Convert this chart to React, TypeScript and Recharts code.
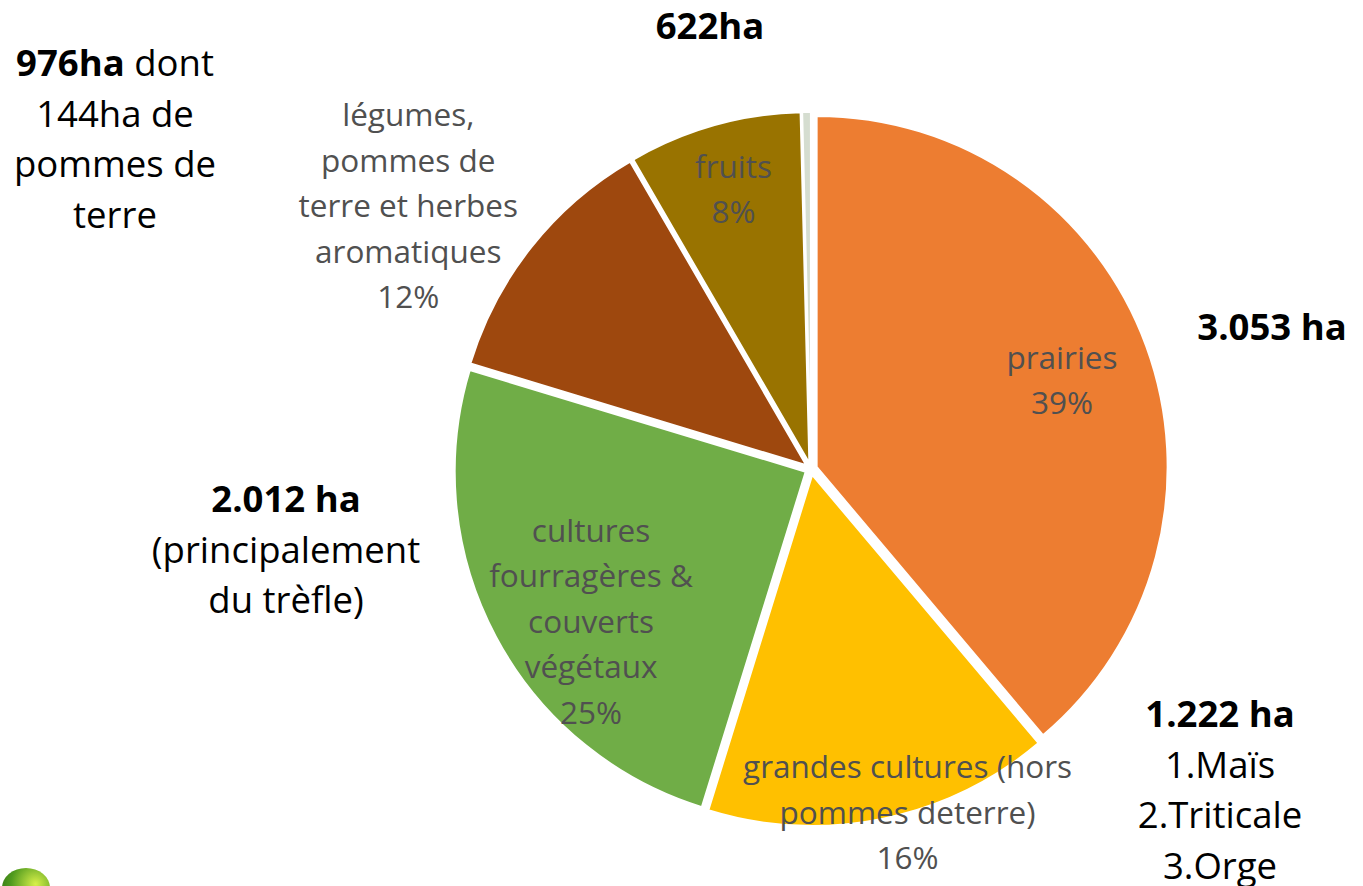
import { PieChart, Pie, Cell, Sector } from 'recharts'

const categories = [
  'prairies',
  'grandes cultures (hors pommes deterre)',
  'cultures fourragères & couverts végétaux',
  'légumes, pommes de terre et herbes aromatiques',
  'fruits',
  'autres',
]
const shares = [39, 16, 25, 12, 8, 0.4]
const colors = ['#ED7D31', '#FFC000', '#70AD47', '#9E480E', '#997300', '#D5DDD0']

// wrapped label lines per slice (as in the original)
const labelLines = [
  ['prairies'],
  ['grandes cultures (hors', 'pommes deterre)'],
  ['cultures', 'fourragères &', 'couverts', 'végétaux'],
  ['légumes,', 'pommes de', 'terre et herbes', 'aromatiques'],
  ['fruits'],
  [],
]

// label placement: radius factor and angle nudge (degrees)
const labelPlace = [
  { r: 0.76, da: -0.3 },
  { r: 1.012, da: 4.3 },
  { r: 0.76, da: 6.5 },
  { r: 1.373, da: 5.05 },
  { r: 0.832, da: -0.4 },
  { r: 0, da: 0 },
]

const hectares = [
  { bold: '976ha', rest: [' dont', '144ha de', 'pommes de', 'terre'], x: 115, y: 37 },
  { bold: '622ha', rest: [], x: 710, y: 0 },
  { bold: '3.053 ha', rest: [], x: 1272, y: 301 },
  { bold: '2.012 ha', rest: ['(principalement', 'du trèfle)'], x: 286, y: 473 },
  { bold: '1.222 ha', rest: ['1.Maïs', '2.Triticale', '3.Orge'], x: 1220, y: 688 },
]

const data = categories.map((name, i) => ({ name, value: shares[i] }))

const RAD = Math.PI / 180
const EXPLODE = 6

const renderSector = (props: any) => {
  const { cx, cy, midAngle } = props
  const dx = Math.cos(-midAngle * RAD) * EXPLODE
  const dy = Math.sin(-midAngle * RAD) * EXPLODE
  return <Sector {...props} cx={cx + dx} cy={cy + dy} />
}

const renderLabel = (props: any) => {
  const { cx, cy, midAngle, outerRadius, index } = props
  const lines = labelLines[index]
  if (!lines || lines.length === 0) return null
  const place = labelPlace[index]
  const a = (midAngle + place.da) * RAD
  const x = cx + outerRadius * place.r * Math.cos(-a)
  const y = cy + outerRadius * place.r * Math.sin(-a)
  const all = [...lines, `${Math.round(shares[index])}%`]
  const lh = 45.5
  const y0 = y - ((all.length - 1) * lh) / 2
  return (
    <text
      x={x}
      y={y0}
      textAnchor="middle"
      dominantBaseline="central"
      fill="#505050"
      style={{ fontFamily: '"Open Sans", sans-serif', fontSize: 31.5 }}
    >
      {all.map((t, i) => (
        <tspan key={i} x={x} y={y0 + i * lh}>
          {t}
        </tspan>
      ))}
    </text>
  )
}

export default function App() {
  return (
    <div style={{ position: 'relative', width: 1363, height: 886, background: '#fff', overflow: 'hidden' }}>
      <style>{'body{margin:0}'}</style>
      <PieChart width={1363} height={886} margin={{ top: 0, right: 0, bottom: 0, left: 0 }}>
        <Pie
          data={data}
          dataKey="value"
          nameKey="name"
          cx={811}
          cy={469}
          outerRadius={351}
          startAngle={90}
          endAngle={-270}
          stroke="#fff"
          strokeWidth={2}
          shape={renderSector}
          inactiveShape={renderSector}
          activeShape={renderSector}
          label={renderLabel}
          labelLine={false}
          isAnimationActive={false}
        >
          {data.map((d, i) => (
            <Cell key={d.name} fill={colors[i]} />
          ))}
        </Pie>
      </PieChart>
      {hectares.map((h) => (
        <div
          key={h.bold}
          style={{
            position: 'absolute',
            left: h.x - 200,
            top: h.y,
            width: 400,
            textAlign: 'center',
            fontFamily: '"Open Sans", sans-serif',
            fontSize: 36.5,
            lineHeight: '50.5px',
            color: '#000',
          }}
        >
          <b>{h.bold}</b>
          {h.rest.map((t, i) =>
            i === 0 && t.startsWith(' ') ? <span key={i}>{t}</span> : <div key={i}>{t}</div>
          )}
        </div>
      ))}
      <div
        style={{
          position: 'absolute',
          left: 2,
          top: 868,
          width: 48,
          height: 40,
          borderRadius: '50%',
          background: 'radial-gradient(circle at 70% 40%, #d8f04a, #4f9a1e 60%, #2f6d12)',
        }}
      />
    </div>
  )
}
